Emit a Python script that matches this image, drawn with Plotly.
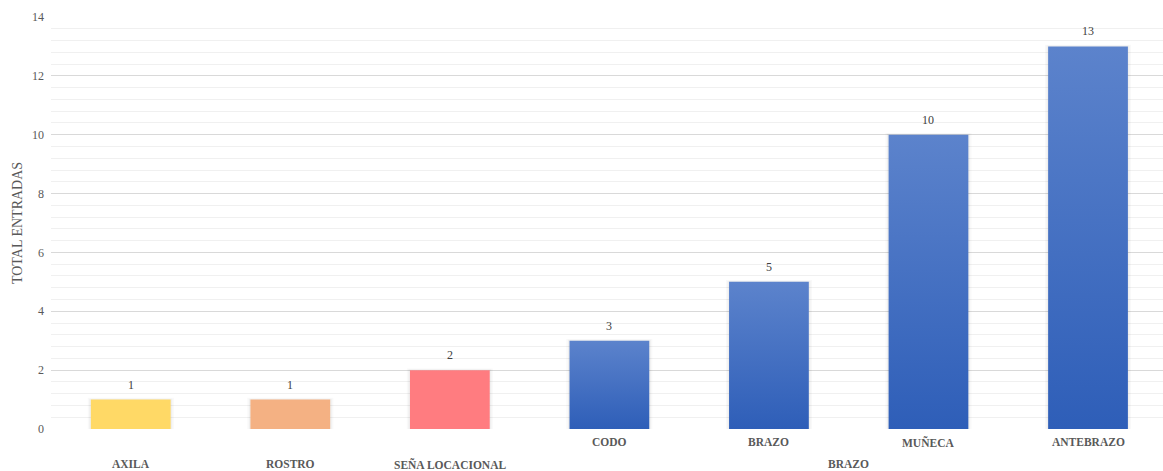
import plotly.graph_objects as go

# Data
categories = ["AXILA", "ROSTRO", "SEÑA LOCACIONAL", "CODO", "BRAZO", "MUÑECA", "ANTEBRAZO"]
groups = ["", "", "", "BRAZO", "BRAZO", "BRAZO", "BRAZO"]
values = [1, 1, 2, 3, 5, 10, 13]
bar_top_colors = ["#FFD966", "#F4B183", "#FF7C80", "#5C83CC", "#5C83CC", "#5C83CC", "#5C83CC"]
bar_bottom_colors = ["#FFD966", "#F4B183", "#FF7C80", "#2E5EB8", "#2E5EB8", "#2E5EB8", "#2E5EB8"]
y_ticks = [0, 2, 4, 6, 8, 10, 12, 14]

FONT = "Liberation Serif, Times New Roman, serif"
half_w = 0.25

fig = go.Figure()

for i, (cat, v) in enumerate(zip(categories, values)):
    # soft drop shadow behind each bar
    for grow, alpha in [(0.02, 0.025), (0.01, 0.04)]:
        fig.add_trace(go.Scatter(
            x=[i - half_w - grow, i + half_w + grow, i + half_w + grow, i - half_w - grow, i - half_w - grow],
            y=[0, 0, v + grow * 3, v + grow * 3, 0],
            fill="toself", mode="lines", line=dict(width=0),
            fillcolor=f"rgba(0,0,0,{alpha})", hoverinfo="skip", showlegend=False,
        ))
    # the bar itself, vertical gradient from dark bottom to light top
    fig.add_trace(go.Scatter(
        x=[i - half_w, i + half_w, i + half_w, i - half_w, i - half_w],
        y=[0, 0, v, v, 0],
        fill="toself", mode="lines", line=dict(width=0),
        fillgradient=dict(type="vertical",
                          colorscale=[[0, bar_bottom_colors[i]], [1, bar_top_colors[i]]]),
        name=cat, showlegend=False, hoverinfo="name+y",
    ))

annotations = []
# value labels above bars
for i, v in enumerate(values):
    annotations.append(dict(
        x=i, y=v, xref="x", yref="y", text=str(v), showarrow=False,
        yanchor="bottom", yshift=6,
        font=dict(family=FONT, size=12, color="#404040"),
    ))

# category labels: grouped items on the inner row, ungrouped on the outer row
for i, (cat, grp) in enumerate(zip(categories, groups)):
    annotations.append(dict(
        x=i, y=0, xref="x", yref="paper", text=f"<b>{cat}</b>", showarrow=False,
        yanchor="middle", yshift=-13 if grp else -35,
        font=dict(family=FONT, size=11.5, color="#595959"),
    ))
# group label centred under its members
for grp in sorted(set(g for g in groups if g)):
    idx = [i for i, g in enumerate(groups) if g == grp]
    annotations.append(dict(
        x=(idx[0] + idx[-1]) / 2, y=0, xref="x", yref="paper", text=f"<b>{grp}</b>",
        showarrow=False, yanchor="middle", yshift=-35,
        font=dict(family=FONT, size=11.5, color="#595959"),
    ))

fig.update_layout(
    width=1163, height=471,
    margin=dict(l=51, r=0, t=17, b=42),
    paper_bgcolor="white", plot_bgcolor="white",
    annotations=annotations,
    xaxis=dict(range=[-0.5, 6.47], showgrid=False, zeroline=False,
               showticklabels=False, fixedrange=True),
    yaxis=dict(range=[0, 14], tickvals=y_ticks, showgrid=True, gridcolor="#D9D9D9",
               gridwidth=1, zeroline=True, zerolinecolor="white", zerolinewidth=2,
               minor=dict(dtick=0.4, showgrid=True, gridcolor="#F0F0F0", gridwidth=1),
               tickfont=dict(family=FONT, size=12, color="#595959"),
               ticklabelstandoff=6,
               title=dict(text="TOTAL ENTRADAS", standoff=6,
                          font=dict(family=FONT, size=14, color="#595959"))),
)

fig.write_html("out.html")
